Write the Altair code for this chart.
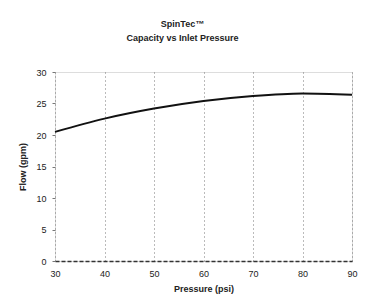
import altair as alt
import pandas as pd

pressure = [30, 40, 50, 60, 70, 80, 90]
flow = [20.5, 22.6, 24.2, 25.4, 26.2, 26.6, 26.4]

df = pd.DataFrame({"Pressure (psi)": pressure, "Flow (gpm)": flow})

line = alt.Chart(df).mark_line(color="#111111", strokeWidth=2, interpolate="monotone").encode(
    x=alt.X("Pressure (psi):Q",
            scale=alt.Scale(domain=[30, 90], nice=False),
            axis=alt.Axis(values=pressure, title="Pressure (psi)", grid=True,
                          gridDash=[1, 3], gridColor="#777777", gridWidth=1,
                          domainColor="#333333", domainDash=[4, 2], domainWidth=1.5,
                          tickSize=0, labelPadding=8, titlePadding=6, labelFlush=False,
                          labelFontSize=9, titleFontSize=9, titleFontWeight="bold",
                          labelColor="#222222", titleColor="#222222")),
    y=alt.Y("Flow (gpm):Q",
            scale=alt.Scale(domain=[0, 30], nice=False),
            axis=alt.Axis(values=[0, 5, 10, 15, 20, 25, 30], title="Flow (gpm)", grid=False,
                          domain=False, tickSize=3, tickColor="#777777", labelPadding=6,
                          titlePadding=8, labelFontSize=9, titleFontSize=9,
                          titleFontWeight="bold", labelColor="#222222", titleColor="#222222")),
)

chart = line.properties(
    width=297, height=189,
    title=alt.TitleParams(["SpinTec™", "Capacity vs Inlet Pressure"], fontSize=9,
                          fontWeight="bold", color="#222222", anchor="middle",
                          dx=-21, offset=25, lineHeight=14, font="Liberation Sans"),
    autosize=alt.AutoSizeParams(type="none"),
    padding={"left": 47, "top": 64, "right": 8, "bottom": 36},
).configure_view(stroke=None).configure(font="Liberation Sans", background="#ffffff")

chart.save("out.html", embed_options={"renderer": "svg", "actions": False})
